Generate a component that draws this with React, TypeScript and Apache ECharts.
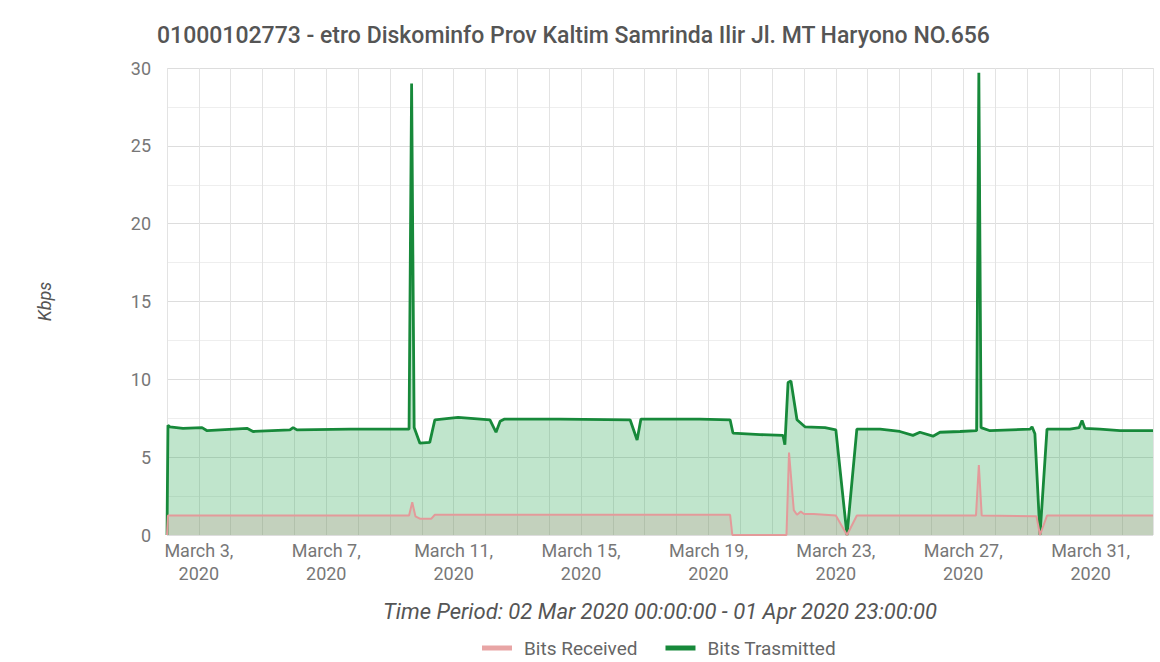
import React, { useEffect, useRef } from "react";
import * as echarts from "echarts";

// x = day of March 2020 (decimal; 2.0 = 02 Mar 00:00, 32.958 = 01 Apr 23:00)
const titleText = "01000102773 - etro Diskominfo Prov Kaltim Samrinda Ilir Jl. MT Haryono NO.656";
const xAxisName = "Time Period: 02 Mar 2020 00:00:00 - 01 Apr 2020 23:00:00";
const yAxisName = "Kbps";
const seriesNames = ["Bits Received", "Bits Trasmitted"];
const labelDays = [3, 7, 11, 15, 19, 23, 27, 31];

const txDay = [
  2.0, 2.03, 2.09, 2.5, 3.1, 3.26, 4.51, 4.7, 5.86, 5.96, 6.08, 7.75, 9.6,
  9.68, 9.76, 9.94, 10.25, 10.41, 11.14, 12.14, 12.33, 12.46, 12.6, 14.34,
  16.54, 16.76, 16.88, 18.73, 19.68, 19.77, 20.62, 21.34, 21.4, 21.5, 21.59,
  21.78, 22.03, 22.66, 23.0, 23.35, 23.66, 24.39, 25.01, 25.42, 25.64, 26.05,
  26.27, 26.9, 27.42, 27.49, 27.56, 27.84, 29.1, 29.16, 29.25, 29.41, 29.63,
  30.35, 30.64, 30.73, 30.82, 31.29, 31.92, 32.958,
];
const txKbps = [
  0, 7.05, 6.95, 6.85, 6.9, 6.7, 6.85, 6.65, 6.75, 6.9, 6.75, 6.8, 6.8,
  29.0, 6.9, 5.9, 5.95, 7.4, 7.55, 7.4, 6.6, 7.3, 7.45, 7.45,
  7.4, 6.1, 7.45, 7.45, 7.4, 6.55, 6.45, 6.4, 5.8, 9.8, 9.9,
  7.4, 6.95, 6.9, 6.75, 0, 6.8, 6.8, 6.65, 6.4, 6.6, 6.35,
  6.6, 6.65, 6.7, 29.7, 6.9, 6.7, 6.8, 6.95, 6.5, 0, 6.8,
  6.8, 6.9, 7.35, 6.85, 6.8, 6.7, 6.7,
];

const rxDay = [
  2.0, 2.03, 9.6, 9.7, 9.8, 9.94, 10.3, 10.41, 19.68, 19.75, 21.45, 21.53,
  21.68, 21.78, 21.9, 22.0, 22.3, 23.0, 23.35, 23.66, 27.4, 27.49, 27.58,
  29.3, 29.41, 29.63, 32.958,
];
const rxKbps = [
  0, 1.25, 1.25, 2.1, 1.2, 1.05, 1.05, 1.3, 1.3, 0, 0, 5.3,
  1.6, 1.3, 1.5, 1.35, 1.35, 1.25, 0, 1.25, 1.25, 4.5, 1.25,
  1.2, 0, 1.25, 1.25,
];

const txData = txDay.map((d, i) => [d, txKbps[i]]);
const rxData = rxDay.map((d, i) => [d, rxKbps[i]]);

export default function App() {
  const ref = useRef<HTMLDivElement>(null);
  useEffect(() => {
    if (!ref.current) return;
    const chart = echarts.init(ref.current, null, { renderer: "svg" });
    const font = "Roboto";
    chart.setOption({
      animation: false,
      backgroundColor: "#ffffff",
      title: {
        text: titleText,
        left: 152,
        top: 19,
        textStyle: { fontFamily: font, fontSize: 23, fontWeight: 500, color: "#555555" },
      },
      grid: { left: 167, right: 7, top: 68, bottom: 127, containLabel: false },
      legend: {
        data: seriesNames,
        left: 482,
        top: 637,
        padding: 0,
        itemWidth: 30,
        itemHeight: 5,
        itemGap: 28,
        icon: "rect",
        textStyle: { fontFamily: font, fontSize: 19, lineHeight: 22, color: "#666666", padding: [0, 0, 0, 7] },
      },
      xAxis: {
        type: "value",
        min: 2,
        max: 32.958,
        interval: 1,
        name: xAxisName,
        nameLocation: "middle",
        nameGap: 65,
        nameTextStyle: { fontFamily: font, fontSize: 22, fontStyle: "italic", color: "#555555" },
        axisLine: { show: false },
        axisTick: { show: false },
        axisLabel: {
          margin: 4,
          fontFamily: font,
          fontSize: 18,
          lineHeight: 23,
          color: "#777777",
          formatter: (v: number) => {
            const d = Math.round(v);
            return Math.abs(v - d) < 1e-6 && labelDays.includes(d) ? `March ${d},\n2020` : "";
          },
        },
        splitLine: { show: true, lineStyle: { color: "#e3e3e3", width: 1 } },
      },
      yAxis: {
        type: "value",
        min: 0,
        max: 30,
        interval: 5,
        name: yAxisName,
        nameLocation: "middle",
        nameRotate: 90,
        nameGap: 114,
        nameTextStyle: { fontFamily: font, fontSize: 18, fontStyle: "italic", color: "#555555" },
        axisLine: { show: false },
        axisTick: { show: false },
        axisLabel: { margin: 16, fontFamily: font, fontSize: 18, color: "#777777" },
        splitLine: { show: true, lineStyle: { color: "#dddddd", width: 1 } },
        minorTick: { show: false, splitNumber: 2 },
        minorSplitLine: { show: true, lineStyle: { color: "#eeeeee", width: 1 } },
      },
      series: [
        {
          name: seriesNames[1],
          type: "line",
          data: txData,
          showSymbol: false,
          symbol: "none",
          lineStyle: { color: "#17893a", width: 2.8 },
          itemStyle: { color: "#17893a" },
          areaStyle: { color: "rgba(40,165,80,0.42)" },
          z: 2,
        },
        {
          name: seriesNames[0],
          type: "line",
          data: rxData,
          showSymbol: false,
          symbol: "none",
          lineStyle: { color: "#e39a9a", width: 2 },
          itemStyle: { color: "#e8a5a5" },
          areaStyle: { color: "rgba(210,120,120,0.25)" },
          z: 3,
        },
      ],
    });
    return () => chart.dispose();
  }, []);
  return <div ref={ref} style={{ width: 1160, height: 662, position: "absolute", left: 0, top: 0 }} />;
}
